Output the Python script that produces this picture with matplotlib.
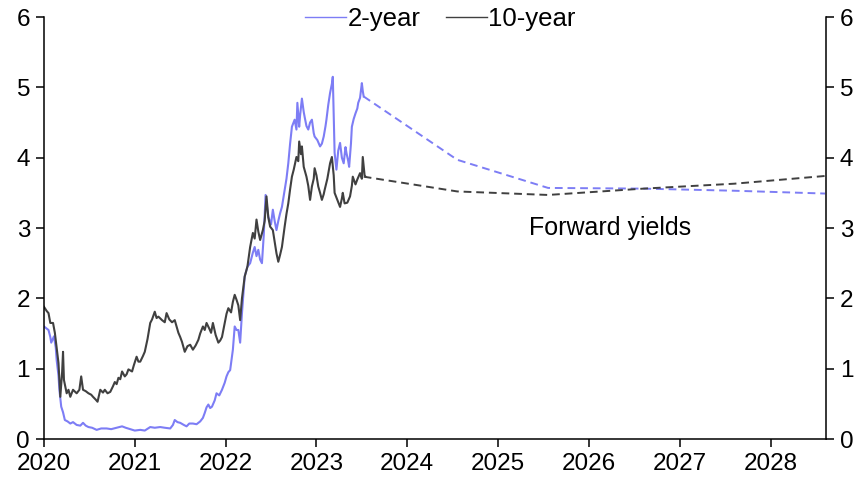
import matplotlib
matplotlib.use('Agg')
import matplotlib.pyplot as plt
from matplotlib.lines import Line2D

plt.rcParams['font.family'] = ['Liberation Sans', 'DejaVu Sans']

# 10-year yield (decimal year, %)
t10 = [2020.00, 2020.03, 2020.05, 2020.07, 2020.10, 2020.12, 2020.14, 2020.16, 2020.18, 2020.20,
       2020.21, 2020.22, 2020.25, 2020.27, 2020.29, 2020.32, 2020.36, 2020.39, 2020.41, 2020.43,
       2020.46, 2020.49, 2020.52, 2020.54, 2020.57, 2020.59, 2020.62, 2020.65, 2020.67, 2020.70,
       2020.73, 2020.76, 2020.78, 2020.80, 2020.82, 2020.84, 2020.86, 2020.89, 2020.91, 2020.93,
       2020.97, 2020.99, 2021.02, 2021.04, 2021.06, 2021.09, 2021.11, 2021.14, 2021.17, 2021.19,
       2021.22, 2021.24, 2021.26, 2021.30, 2021.33, 2021.35, 2021.38, 2021.41, 2021.44, 2021.46,
       2021.48, 2021.50, 2021.52, 2021.55, 2021.58, 2021.61, 2021.64, 2021.67, 2021.70, 2021.72,
       2021.75, 2021.77, 2021.79, 2021.82, 2021.84, 2021.86, 2021.89, 2021.92, 2021.94, 2021.96,
       2021.99, 2022.01, 2022.03, 2022.06, 2022.08, 2022.10, 2022.12, 2022.14, 2022.16, 2022.18,
       2022.21, 2022.24, 2022.27, 2022.30, 2022.32, 2022.34, 2022.36, 2022.38, 2022.41, 2022.43,
       2022.45, 2022.47, 2022.49, 2022.52, 2022.54, 2022.56, 2022.58, 2022.60, 2022.62, 2022.65,
       2022.67, 2022.69, 2022.71, 2022.73, 2022.75, 2022.78, 2022.80, 2022.81, 2022.83, 2022.84,
       2022.86, 2022.89, 2022.91, 2022.93, 2022.95, 2022.97, 2022.98, 2023.00, 2023.02, 2023.04,
       2023.06, 2023.08, 2023.09, 2023.12, 2023.15, 2023.17, 2023.19, 2023.20, 2023.23, 2023.26,
       2023.28, 2023.29, 2023.31, 2023.34, 2023.37, 2023.39, 2023.40, 2023.43, 2023.45, 2023.48,
       2023.50, 2023.51, 2023.53, 2023.54]
y10 = [1.88, 1.82, 1.79, 1.65, 1.65, 1.51, 1.30, 1.08, 0.60, 0.95,
       1.24, 0.84, 0.65, 0.70, 0.60, 0.70, 0.65, 0.70, 0.89, 0.70,
       0.68, 0.65, 0.63, 0.60, 0.56, 0.53, 0.70, 0.66, 0.70, 0.65,
       0.67, 0.75, 0.81, 0.78, 0.87, 0.85, 0.96, 0.89, 0.92, 0.99,
       0.96, 1.05, 1.17, 1.10, 1.10, 1.18, 1.24, 1.42, 1.65, 1.70,
       1.81, 1.72, 1.74, 1.69, 1.66, 1.79, 1.70, 1.66, 1.69, 1.60,
       1.51, 1.45, 1.38, 1.24, 1.32, 1.34, 1.27, 1.33, 1.41, 1.50,
       1.60, 1.55, 1.65, 1.57, 1.51, 1.65, 1.48, 1.37, 1.40, 1.45,
       1.65, 1.78, 1.86, 1.80, 1.95, 2.05, 1.98, 1.90, 1.69, 2.00,
       2.31, 2.45, 2.73, 2.93, 2.85, 3.12, 2.95, 2.83, 2.97, 3.10,
       3.45, 3.15, 3.02, 2.97, 2.80, 2.64, 2.52, 2.62, 2.73, 3.02,
       3.20, 3.35, 3.55, 3.73, 3.83, 4.01, 3.95, 4.23, 4.05, 4.16,
       3.87, 3.73, 3.60, 3.40, 3.59, 3.70, 3.85, 3.75, 3.59, 3.50,
       3.40, 3.48, 3.54, 3.70, 3.92, 4.01, 3.75, 3.50, 3.40, 3.30,
       3.42, 3.50, 3.35, 3.36, 3.45, 3.60, 3.73, 3.62, 3.69, 3.78,
       3.70, 4.01, 3.75, 3.73]

# 2-year yield (decimal year, %)
t2 = [2020.00, 2020.02, 2020.05, 2020.07, 2020.08, 2020.11, 2020.13, 2020.14, 2020.16, 2020.17,
      2020.19, 2020.21, 2020.23, 2020.26, 2020.29, 2020.32, 2020.36, 2020.40, 2020.43, 2020.46,
      2020.49, 2020.53, 2020.58, 2020.63, 2020.69, 2020.74, 2020.80, 2020.86, 2020.90, 2020.95,
      2021.00, 2021.06, 2021.11, 2021.17, 2021.22, 2021.28, 2021.33, 2021.39, 2021.42, 2021.44,
      2021.47, 2021.50, 2021.54, 2021.57, 2021.60, 2021.64, 2021.68, 2021.72, 2021.75, 2021.77,
      2021.79, 2021.81, 2021.83, 2021.85, 2021.88, 2021.90, 2021.93, 2021.96, 2021.99, 2022.01,
      2022.03, 2022.05, 2022.08, 2022.10, 2022.12, 2022.14, 2022.16, 2022.18, 2022.21, 2022.24,
      2022.27, 2022.30, 2022.32, 2022.34, 2022.36, 2022.38, 2022.40, 2022.42, 2022.44, 2022.47,
      2022.50, 2022.52, 2022.54, 2022.56, 2022.58, 2022.60, 2022.62, 2022.65, 2022.67, 2022.69,
      2022.71, 2022.73, 2022.76, 2022.78, 2022.79, 2022.81, 2022.82, 2022.84, 2022.86, 2022.87,
      2022.89, 2022.91, 2022.93, 2022.95, 2022.97, 2022.98, 2023.01, 2023.04, 2023.06, 2023.08,
      2023.10, 2023.11, 2023.13, 2023.15, 2023.17, 2023.18, 2023.19, 2023.20, 2023.22, 2023.24,
      2023.26, 2023.28, 2023.30, 2023.32, 2023.33, 2023.35, 2023.36, 2023.38, 2023.39, 2023.41,
      2023.43, 2023.45, 2023.46, 2023.48, 2023.50, 2023.51, 2023.52]
y2 = [1.60, 1.58, 1.55, 1.45, 1.37, 1.46, 1.30, 1.12, 0.90, 0.70,
      0.46, 0.38, 0.27, 0.25, 0.22, 0.24, 0.20, 0.19, 0.23, 0.19,
      0.17, 0.16, 0.13, 0.15, 0.15, 0.14, 0.16, 0.18, 0.16, 0.14,
      0.12, 0.13, 0.12, 0.17, 0.16, 0.17, 0.16, 0.15, 0.20, 0.27,
      0.24, 0.23, 0.20, 0.18, 0.22, 0.22, 0.21, 0.25, 0.30, 0.37,
      0.45, 0.49, 0.44, 0.46, 0.55, 0.65, 0.62, 0.70, 0.80, 0.89,
      0.95, 0.98, 1.27, 1.60, 1.55, 1.55, 1.37, 1.79, 2.31, 2.45,
      2.50, 2.65, 2.73, 2.60, 2.69, 2.55, 2.50, 2.90, 3.47, 3.16,
      3.05, 3.26, 3.10, 2.97, 3.10, 3.21, 3.30, 3.54, 3.70, 3.92,
      4.20, 4.44, 4.54, 4.40, 4.78, 4.44, 4.60, 4.84, 4.65, 4.58,
      4.45, 4.40, 4.50, 4.54, 4.35, 4.30, 4.25, 4.16, 4.20, 4.30,
      4.45, 4.54, 4.75, 4.92, 5.05, 5.15, 4.60, 4.07, 3.83, 4.10,
      4.21, 4.00, 3.92, 4.15, 4.07, 3.95, 3.87, 4.20, 4.44, 4.55,
      4.63, 4.70, 4.78, 4.85, 5.06, 4.95, 4.87]

# forward yields
t_fwd = [2023.52, 2024.55, 2025.55, 2026.6, 2027.6, 2028.6]
fwd2 = [4.87, 3.97, 3.57, 3.56, 3.53, 3.49]
fwd10 = [3.73, 3.52, 3.47, 3.56, 3.63, 3.74]

years = list(range(2020, 2029))
blue = '#7d7df5'
dark = '#404040'

fig = plt.figure(figsize=(8.67, 4.82), dpi=100)
ax = fig.add_axes([0.0507, 0.0892, 0.902, 0.8755])

ax.plot(t2, y2, color=blue, lw=1.5)
ax.plot(t10, y10, color=dark, lw=1.5)
ax.plot(t_fwd, fwd2, color=blue, lw=1.4, dashes=(4, 2.5))
ax.plot(t_fwd, fwd10, color=dark, lw=1.4, dashes=(4, 2.5))

ax.text(2026.23, 3.0, 'Forward yields', fontsize=18, ha='center', va='center')

ax.set_xlim(2020, 2028.61)
ax.set_ylim(0, 6)
ax.set_xticks(years)
ax.set_xticklabels([str(y) for y in years])
ax.set_yticks(range(0, 7))
ax.tick_params(axis='both', labelsize=17.5, length=6, width=1.1, direction='out')
ax.tick_params(axis='y', right=True, labelright=True, pad=4)
ax.tick_params(axis='x', pad=4)
ax.spines['top'].set_visible(False)
for s in ['left', 'right', 'bottom']:
    ax.spines[s].set_linewidth(1.1)

handles = [Line2D([], [], color=blue, lw=1), Line2D([], [], color=dark, lw=1)]
ax.legend(handles, ['2-year', '10-year'], loc='center', bbox_to_anchor=(0.507, 0.995),
          ncol=2, frameon=False, fontsize=18.5, handlelength=1.6, handletextpad=0.05,
          columnspacing=1.0, borderaxespad=0)

fig.savefig('out.png', dpi=100)
